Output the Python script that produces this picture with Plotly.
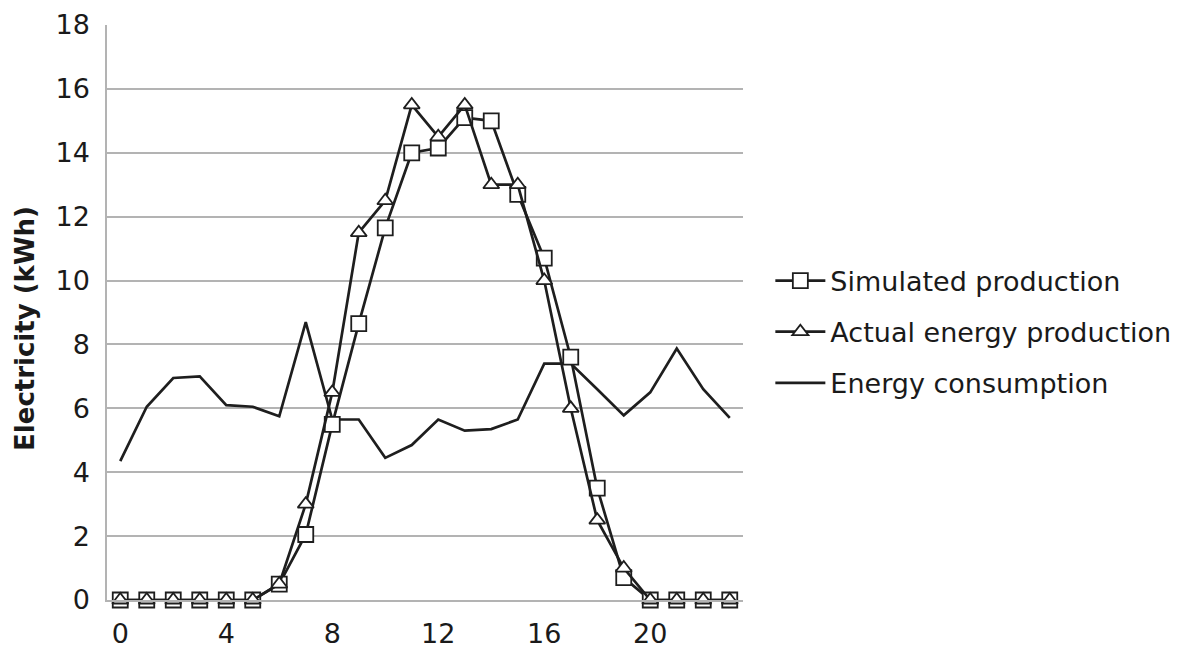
import plotly.graph_objects as go

hours = list(range(24))
simulated = [0, 0, 0, 0, 0, 0, 0.5, 2.05, 5.5, 8.65, 11.65, 14.0, 14.15, 15.1,
             15.0, 12.7, 10.7, 7.6, 3.5, 0.7, 0, 0, 0, 0]
actual = [0, 0, 0, 0, 0, 0, 0.5, 3.0, 6.5, 11.5, 12.5, 15.5, 14.5, 15.5,
          13.0, 13.0, 10.0, 6.0, 2.5, 1.0, 0, 0, 0, 0]
consumption = [4.35, 6.05, 6.95, 7.0, 6.1, 6.05, 5.75, 8.7, 5.65, 5.65, 4.45, 4.85,
               5.65, 5.3, 5.35, 5.65, 7.4, 7.4, 6.6, 5.78, 6.5, 7.87, 6.6, 5.7]
x_ticks = [0, 4, 8, 12, 16, 20]
y_ticks = [0, 2, 4, 6, 8, 10, 12, 14, 16, 18]

LINE = "#1e1e1e"
GRID = "#b3b3b3"
FONT = "DejaVu Sans"

fig = go.Figure()
fig.add_trace(go.Scatter(
    x=hours, y=consumption, mode="lines", name="Energy consumption",
    line=dict(color=LINE, width=2.7), legendgroup="c", legendrank=3, cliponaxis=False))
fig.add_trace(go.Scatter(
    x=hours, y=simulated, mode="lines+markers", name="Simulated production",
    line=dict(color=LINE, width=2.7),
    marker=dict(symbol="square", size=15, color="white", line=dict(color=LINE, width=1.8)),
    legendgroup="s", legendrank=1, cliponaxis=False))
fig.add_trace(go.Scatter(
    x=hours, y=actual, mode="lines+markers", name="Actual energy production",
    line=dict(color=LINE, width=2.7),
    marker=dict(symbol="triangle-up", size=14, color="white", line=dict(color=LINE, width=1.8)),
    legendgroup="a", legendrank=2, cliponaxis=False))

fig.update_layout(
    width=1184, height=650,
    margin=dict(l=107, r=441, t=25, b=50, autoexpand=False),
    paper_bgcolor="white", plot_bgcolor="white",
    font=dict(family=FONT, size=27, color="#1a1a1a"),
    showlegend=True,
    legend=dict(x=1.043, xanchor="left", y=0.466, yanchor="middle",
                font=dict(family=FONT, size=27, color="#1a1a1a"),
                itemwidth=50,
                tracegroupgap=13, bgcolor="rgba(0,0,0,0)"),
    annotations=[dict(text="<b>Electricity (kWh)</b>", textangle=-90,
                      xref="paper", yref="paper", x=-0.13, y=0.472,
                      xanchor="center", yanchor="middle", showarrow=False,
                      font=dict(family=FONT, size=26, color="#1a1a1a"))],
)
fig.update_xaxes(range=[-0.5, 23.5], tickvals=x_ticks, ticktext=[str(v) for v in x_ticks],
                 showgrid=False, zeroline=False, showline=True, linecolor=GRID, linewidth=1.5,
                 ticks="", ticklabelstandoff=9, automargin=False)
fig.update_yaxes(range=[0, 18], tickvals=y_ticks, ticktext=[str(v) for v in y_ticks],
                 showgrid=True, gridcolor=GRID, gridwidth=1.5, zeroline=False,
                 showline=True, linecolor=GRID, linewidth=1.5, ticks="", ticklabelstandoff=10,
                 automargin=False)

fig.write_html("out.html")
